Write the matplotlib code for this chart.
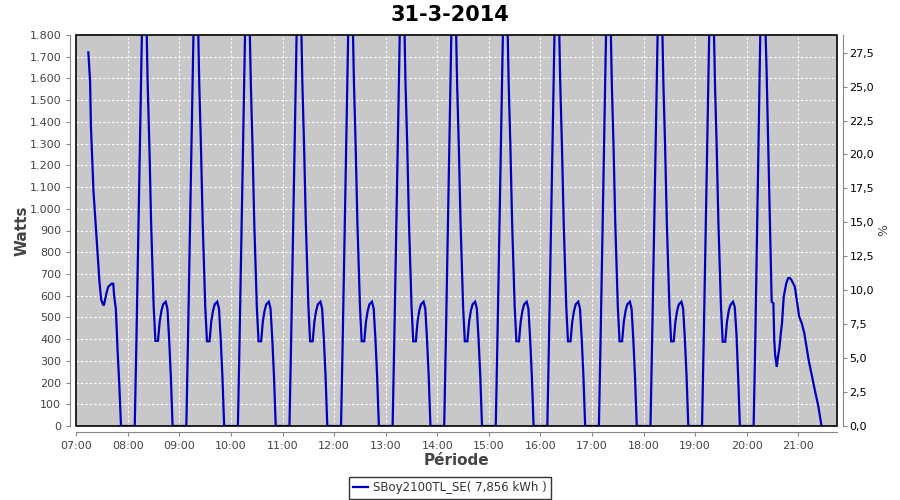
import matplotlib
matplotlib.use("Agg")
import matplotlib.pyplot as plt
from matplotlib.ticker import FixedLocator, FuncFormatter
from matplotlib.patches import Rectangle

title = "31-3-2014"
series_label = "SBoy2100TL_SE( 7,856 kWh )"

times = [
    "07:14", "07:16", "07:17", "07:20", "07:22", "07:25", "07:27", "07:29", "07:31", "07:32",
    "07:35", "07:37", "07:41", "07:43", "07:44", "07:46", "07:48", "07:50", "07:52",
    "08:08", "08:10", "08:19", "08:23", "08:25", "08:27", "08:29", "08:30", "08:32", "08:35",
    "08:37", "08:39", "08:41", "08:44", "08:46", "08:48", "08:50", "08:52",
    "09:08", "09:10", "09:19", "09:23", "09:25", "09:27", "09:29", "09:30", "09:32", "09:35",
    "09:37", "09:39", "09:41", "09:44", "09:46", "09:48", "09:50", "09:52",
    "10:08", "10:10", "10:19", "10:23", "10:25", "10:27", "10:29", "10:30", "10:32", "10:35",
    "10:37", "10:39", "10:41", "10:44", "10:46", "10:48", "10:50", "10:52",
    "11:08", "11:10", "11:19", "11:23", "11:25", "11:27", "11:29", "11:30", "11:32", "11:35",
    "11:37", "11:39", "11:41", "11:44", "11:46", "11:48", "11:50", "11:52",
    "12:08", "12:10", "12:19", "12:23", "12:25", "12:27", "12:29", "12:30", "12:32", "12:35",
    "12:37", "12:39", "12:41", "12:44", "12:46", "12:48", "12:50", "12:52",
    "13:08", "13:10", "13:19", "13:23", "13:25", "13:27", "13:29", "13:30", "13:32", "13:35",
    "13:37", "13:39", "13:41", "13:44", "13:46", "13:48", "13:50", "13:52",
    "14:08", "14:10", "14:19", "14:23", "14:25", "14:27", "14:29", "14:30", "14:32", "14:35",
    "14:37", "14:39", "14:41", "14:44", "14:46", "14:48", "14:50", "14:52",
    "15:08", "15:10", "15:19", "15:23", "15:25", "15:27", "15:29", "15:30", "15:32", "15:35",
    "15:37", "15:39", "15:41", "15:44", "15:46", "15:48", "15:50", "15:52",
    "16:08", "16:10", "16:19", "16:23", "16:25", "16:27", "16:29", "16:30", "16:32", "16:35",
    "16:37", "16:39", "16:41", "16:44", "16:46", "16:48", "16:50", "16:52",
    "17:08", "17:10", "17:19", "17:23", "17:25", "17:27", "17:29", "17:30", "17:32", "17:35",
    "17:37", "17:39", "17:41", "17:44", "17:46", "17:48", "17:50", "17:52",
    "18:08", "18:10", "18:19", "18:23", "18:25", "18:27", "18:29", "18:30", "18:32", "18:35",
    "18:37", "18:39", "18:41", "18:44", "18:46", "18:48", "18:50", "18:52",
    "19:08", "19:10", "19:19", "19:23", "19:25", "19:27", "19:29", "19:30", "19:32", "19:35",
    "19:37", "19:39", "19:41", "19:44", "19:46", "19:48", "19:50", "19:52",
    "20:08", "20:10", "20:18", "20:23", "20:25", "20:27", "20:29", "20:31", "20:32", "20:33",
    "20:35", "20:36", "20:38", "20:40", "20:41", "20:43", "20:46", "20:48", "20:50", "20:52",
    "20:56", "21:01", "21:04", "21:07", "21:12", "21:16", "21:20", "21:23", "21:27",
]

watts = [
    1720, 1590, 1380, 1080, 960, 780, 660, 580, 560, 555,
    610, 640, 655, 655, 600, 540, 350, 190, 0,
    0, 410, 2400, 1580, 1290, 940, 680, 550, 392, 392,
    480, 530, 560, 572, 540, 400, 227, 0,
    0, 410, 2400, 1580, 1290, 940, 680, 550, 390, 390,
    480, 530, 560, 572, 540, 400, 227, 0,
    0, 410, 2400, 1580, 1290, 940, 680, 550, 390, 390,
    480, 530, 560, 572, 540, 400, 227, 0,
    0, 410, 2400, 1580, 1290, 940, 680, 550, 390, 390,
    480, 530, 560, 572, 540, 400, 227, 0,
    0, 410, 2400, 1580, 1290, 940, 680, 550, 390, 390,
    480, 530, 560, 572, 540, 400, 227, 0,
    0, 410, 2400, 1580, 1290, 940, 680, 550, 390, 390,
    480, 530, 560, 572, 540, 400, 227, 0,
    0, 410, 2400, 1580, 1290, 940, 680, 550, 390, 390,
    480, 530, 560, 572, 540, 400, 227, 0,
    0, 410, 2400, 1580, 1290, 940, 680, 550, 390, 390,
    480, 530, 560, 572, 540, 400, 227, 0,
    0, 410, 2400, 1580, 1290, 940, 680, 550, 390, 390,
    480, 530, 560, 572, 540, 400, 227, 0,
    0, 410, 2400, 1580, 1290, 940, 680, 550, 390, 390,
    480, 530, 560, 572, 540, 400, 227, 0,
    0, 410, 2400, 1580, 1290, 940, 680, 550, 390, 390,
    480, 530, 560, 572, 540, 400, 227, 0,
    0, 410, 2400, 1580, 1290, 940, 680, 550, 388, 388,
    480, 530, 557, 572, 549, 427, 227, 0,
    0, 410, 2350, 1650, 1290, 950, 572, 565, 396, 327,
    273, 311, 360, 440, 473, 595, 657, 680, 682, 672,
    641, 503, 473, 427, 304, 227, 150, 97, 0,
]

hour_ticks = [7, 8, 9, 10, 11, 12, 13, 14, 15, 16, 17, 18, 19, 20, 21]
watt_ticks = list(range(0, 1801, 100))
pct_ticks = [0, 2.5, 5, 7.5, 10, 12.5, 15, 17.5, 20, 22.5, 25, 27.5]

x = [int(t[:2]) + int(t[3:]) / 60 for t in times]

fig = plt.figure(figsize=(9, 5), dpi=100)
fig.patch.set_facecolor("white")
ax = fig.add_axes([0.0841, 0.148, 0.8459, 0.782])
ax.set_facecolor("#c8c8c8")

ax.plot(x, watts, color="#0000c0", linewidth=1.6, solid_joinstyle="miter", zorder=3)

ax.set_xlim(6.988, 21.75)
ax.set_ylim(0, 1800)

ax.xaxis.set_major_locator(FixedLocator(hour_ticks))
ax.xaxis.set_major_formatter(FuncFormatter(lambda v, p: f"{int(round(v)):02d}:00"))
ax.yaxis.set_major_locator(FixedLocator(watt_ticks))
ax.yaxis.set_major_formatter(FuncFormatter(lambda v, p: f"{v:,.0f}".replace(",", ".")))

ax.grid(True, color="white", linestyle=(0, (2, 2)), linewidth=0.8, zorder=1)
ax.set_axisbelow(True)

for s in ["top", "right"]:
    ax.spines[s].set_visible(False)
ax.spines["left"].set_position(("outward", 4))
ax.spines["left"].set_color("#888888")
ax.spines["bottom"].set_position(("outward", 4))
ax.spines["bottom"].set_color("#888888")

ax.tick_params(axis="both", colors="#888888", labelcolor="#444444", labelsize=8, length=3, width=0.8)

ax.set_ylabel("Watts", fontsize=11, fontweight="bold", color="#444444", labelpad=0)
ax.set_xlabel("Période", fontsize=11, fontweight="bold", color="#444444", labelpad=2)

ax.add_patch(Rectangle((0, 0), 1, 1, transform=ax.transAxes, fill=False,
                       edgecolor="black", linewidth=1.2, zorder=5, clip_on=False))

ax2 = ax.twinx()
ax2.set_ylim(0, 28.8)
ax2.yaxis.set_major_locator(FixedLocator(pct_ticks))
ax2.yaxis.set_major_formatter(FuncFormatter(lambda v, p: f"{v:.1f}".replace(".", ",")))
for s in ["top", "left", "bottom"]:
    ax2.spines[s].set_visible(False)
ax2.spines["right"].set_position(("outward", 4))
ax2.spines["right"].set_color("#888888")
ax2.tick_params(axis="y", colors="#888888", labelcolor="black", labelsize=8, length=3, width=0.8, pad=2)
ax2.set_ylabel("%", fontsize=9, color="#444444", labelpad=2)

fig.suptitle(title, fontsize=15, fontweight="bold", y=0.99)

leg = fig.legend(handles=ax.get_lines(), labels=[series_label], loc="lower center",
                 bbox_to_anchor=(0.5, 0.003), fontsize=8.5, frameon=True, fancybox=False,
                 handlelength=1.3, handletextpad=0.4, borderpad=0.35, borderaxespad=0)
leg.get_frame().set_edgecolor("black")
leg.get_frame().set_linewidth(1.0)
for t in leg.get_texts():
    t.set_color("#333333")

fig.savefig("out.png", dpi=100)
